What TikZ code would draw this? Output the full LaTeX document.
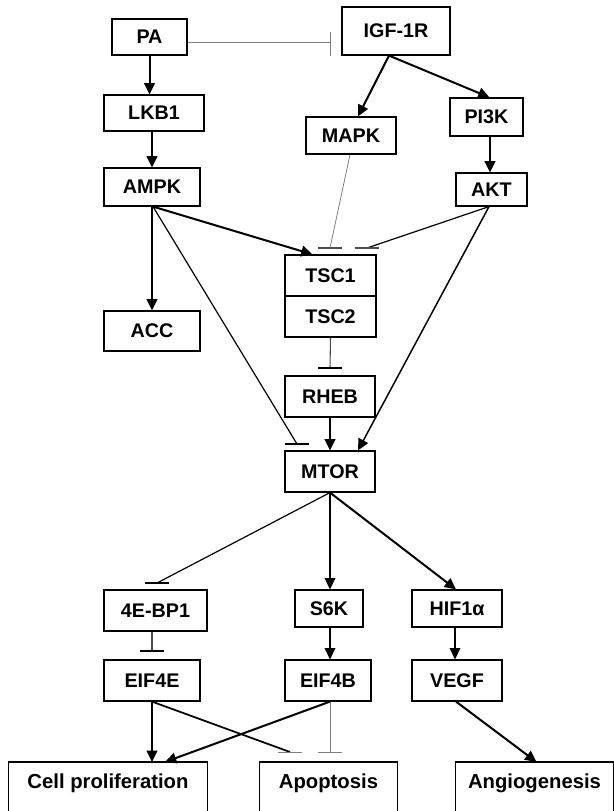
\documentclass[tikz,border=0pt]{standalone}
\usepackage{fontspec}
\setmainfont{Liberation Sans}
\usetikzlibrary{arrows.meta,calc}
\begin{document}
\begin{tikzpicture}[x=0.75pt,y=-0.75pt,
  box/.style={draw=black,line width=0.9pt,inner sep=0pt,font=\fontsize{14.8}{16}\selectfont\bfseries},
  bx/.style n args={2}{minimum width=#1*0.75pt,minimum height=#2*0.75pt},
  outbox/.style={inner sep=0pt,font=\fontsize{15.2}{17}\selectfont\bfseries},
  boxline/.style={draw=black,line width=0.9pt},
  tharrow/.style={line width=1.5pt,-{Triangle[length=8.5pt,width=8pt]}},
  mdarrow/.style={line width=1.1pt,-{Triangle[length=8.5pt,width=8pt]}},
  inhthin/.style={line width=0.6pt,draw=black!50},
  inhgray/.style={line width=0.8pt,draw=black!70},
  inhmed/.style={line width=0.9pt,draw=black},
]
\newcommand\ibar[2]{\draw[#1] ($(#2)+(-12,0)$) -- ($(#2)+(12,0)$);}
\useasboundingbox (0,0) rectangle (614,811);
\clip (0,0) rectangle (614,811);

% nodes
\node[box,bx={75}{36}] (PA) at (149.5,37) {PA};
\node[box,bx={108}{48}] (IGF) at (396,31) {IGF-1R};
\node[box,bx={100}{36}] (LKB1) at (154,113) {LKB1};
\node[box,bx={90}{37}] (MAPK) at (351,135.5) {MAPK};
\node[box,bx={73}{38}] (PI3K) at (486.5,117) {PI3K};
\node[box,bx={96}{38}] (AMPK) at (152,187) {AMPK};
\node[box,bx={71}{33}] (AKT) at (491.5,189.5) {AKT};
\node[box,bx={91}{41}] (TSC1) at (330.5,275.5) {TSC1};
\node[box,bx={91}{41}] (TSC2) at (330.5,316.5) {TSC2};
\node[box,bx={96}{40}] (ACC) at (152,331) {ACC};
\node[box,bx={90}{41}] (RHEB) at (330,396.5) {RHEB};
\node[box,bx={90}{41}] (MTOR) at (330,471.5) {MTOR};
\node[box,bx={103}{41}] (EBP) at (155.5,610.5) {4E-BP1};
\node[box,bx={68}{37}] (S6K) at (329,608.5) {S6K};
\node[box,bx={90}{37}] (HIF) at (457,608.5) {HIF1α};
\node[box,bx={96}{41}] (EIFE) at (152,680.5) {EIF4E};
\node[box,bx={86}{41}] (EIFB) at (328,680.5) {EIF4B};
\node[box,bx={90}{41}] (VEGF) at (457,680.5) {VEGF};
\node[outbox,bx={198}{42},anchor=north] (cell) at (108,762) {Cell proliferation};
\node[outbox,bx={137}{42},anchor=north] (apop) at (328.5,762) {Apoptosis};
\node[outbox,bx={157}{42},anchor=north] (angio) at (534.5,762) {Angiogenesis};
\draw[boxline] (cell.north west) rectangle ($(cell.south east)+(0,40)$);
\draw[boxline] (apop.north west) rectangle ($(apop.south east)+(0,40)$);
\draw[boxline] (angio.north west) rectangle ($(angio.south east)+(0,40)$);

% inhibition end points
\coordinate (b0) at (330,42);
\coordinate (b1) at (330,248);
\coordinate (b2) at (367,248);
\coordinate (b3) at (297,444);
\coordinate (b4) at (330,368);
\coordinate (b5) at (157,583);
\coordinate (b6) at (152,651);
\coordinate (b7) at (290,752);
\coordinate (b8) at (330,752);

% PA -| IGF-1R
\draw[inhthin] (PA.east |- b0) -- (b0);
\draw[inhthin] ($(b0)+(0,-10)$) -- ($(b0)+(0,14)$);

% activations
\draw[tharrow] (PA.south) -- (PA.south |- LKB1.north);
\draw[tharrow] (AMPK.north |- LKB1.south) -- (AMPK.north);
\draw[tharrow] ($(IGF.south)+(-7,0)$) -- ($(MAPK.north)+(7,0)$);
\draw[tharrow] ($(IGF.south)+(-7,0)$) -- ($(PI3K.north)+(3,0)$);
\draw[tharrow] ($(PI3K.south)+(3.5,0)$) -- ($(AKT.north)+(-1.5,0)$);
\draw[tharrow] ($(AMPK.south)+(1,0)$) -- ($(TSC1.north)+(-18,0)$);
\draw[tharrow] (AMPK.south) -- (ACC.north);
\draw[mdarrow] ($(AKT.south)+(-2.5,0)$) -- ($(MTOR.north)+(28,0)$);
\draw[tharrow] (RHEB.south) -- (MTOR.north);
\draw[mdarrow] (MTOR.south) -- (MTOR.south |- S6K.north);
\draw[tharrow] (MTOR.south) -- ($(HIF.north)+(-1,0)$);
\draw[mdarrow] ($(S6K.south)+(1,0)$) -- ($(S6K.south |- EIFB.north)+(1,0)$);
\draw[mdarrow] ($(HIF.south)+(-2,0)$) -- ($(VEGF.north)+(-2,0)$);
\draw[tharrow] (EIFE.south) -- (EIFE.south |- cell.north);
\draw[tharrow] ($(EIFB.south)+(2,0)$) -- ($(cell.north)+(57,0)$);
\draw[tharrow] ($(VEGF.south)+(-1,0)$) -- ($(angio.north)+(2,0)$);

% inhibitions
\draw[inhthin] ($(MAPK.south)+(-1,0)$) -- (b1); \ibar{inhgray}{b1}
\draw[inhmed] ($(AKT.south)+(-2.5,0)$) -- (b2); \ibar{inhgray}{b2}
\draw[inhmed] ($(AMPK.south)+(1,0)$) -- (b3); \ibar{inhmed}{b3}
\draw[inhgray] (TSC2.south) -- (b4); \ibar{inhmed}{b4}
\draw[inhmed] (MTOR.south) -- (b5); \ibar{inhmed}{b5}
\draw[inhgray] (EIFE.south |- EBP.south) -- (b6); \ibar{inhmed}{b6}
\draw[line width=1.3pt] (EIFE.south) -- (b7); \ibar{inhthin}{b7}
\draw[inhthin] ($(EIFB.south)+(2,0)$) -- (b8); \ibar{inhthin}{b8}
\end{tikzpicture}
\end{document}
